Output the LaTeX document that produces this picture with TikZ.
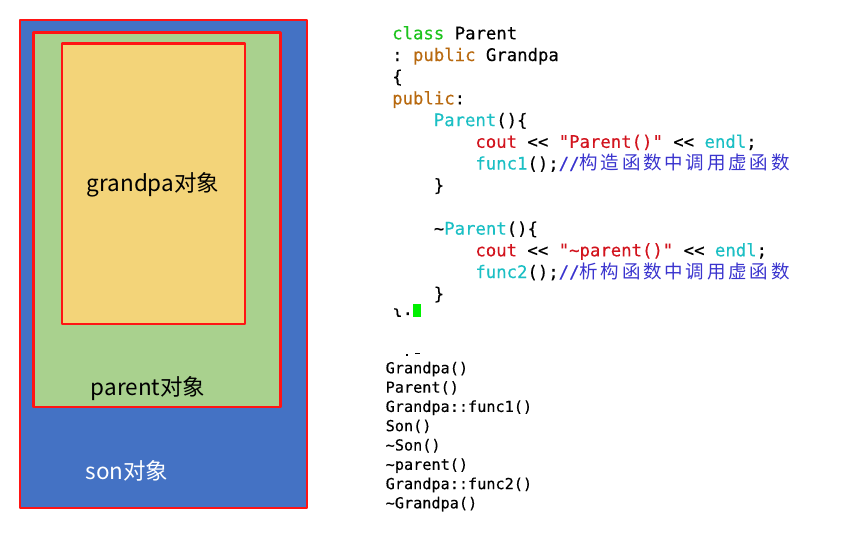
\documentclass[tikz,border=0pt]{standalone}
\usepackage{fontspec}
\setmainfont{DejaVu Sans}
\setmonofont[FakeBold=0.3]{DejaVu Sans Mono}
\newfontfamily\cjk[LetterSpace=15]{Noto Sans CJK SC}
\newfontfamily\labelfont{Noto Sans CJK SC}
\usepackage{xcolor}
\usetikzlibrary{positioning}

\definecolor{sonblue}{HTML}{4472C4}
\definecolor{parentgreen}{HTML}{A9D18E}
\definecolor{grandpayellow}{HTML}{F3D479}
\definecolor{edgered}{HTML}{FF1414}
\definecolor{kwgreen}{HTML}{1DC31D}
\definecolor{kwbrown}{HTML}{B8690F}
\definecolor{fncyan}{HTML}{1BBFC4}
\definecolor{strred}{HTML}{D2141E}
\definecolor{cmtblue}{HTML}{3A34CE}
\definecolor{cursorgreen}{HTML}{00F000}

\tikzset{
  objbox/.style={draw=edgered, line width=2.2pt},
  objlabel/.style={font=\labelfont\fontsize{22.5}{26}\selectfont, inner sep=0pt},
  codeline/.style={font=\ttfamily\fontsize{17.3}{20}\selectfont, anchor=base west, inner sep=0pt},
  outline/.style={font=\ttfamily\fontsize{15.2}{18}\selectfont, anchor=base west, inner sep=0pt}
}

\begin{document}
\begin{tikzpicture}[x=1pt, y=-1pt, line cap=round, line join=round]
  \useasboundingbox (0,0) rectangle (867,547);

  % nested objects: son contains parent contains grandpa
  \draw[objbox, fill=sonblue] (20,20) rectangle (307,508);
  \draw[objbox, fill=parentgreen] (33.5,32.5) rectangle (280.5,407);
  \draw[objbox, fill=grandpayellow] (62,43.5) rectangle (245,324);

  \node[objlabel] (grandpa) at (153,185) {grandpa对象};
  \node[objlabel] (parent) at (148,389) {parent对象};
  \node[objlabel, text=white] (son) at (127,471) {son对象};

  % source of class Parent
  \node[codeline] (c1) at (392,39.3) {\textcolor{kwgreen}{class} Parent};
  \node[codeline] (c2) at (392,61.0) {: \textcolor{kwbrown}{public} Grandpa};
  \node[codeline] (c3) at (392,82.7) {\{};
  \node[codeline] (c4) at (392,104.4) {\textcolor{kwbrown}{public}:};
  \node[codeline] (c5) at (433.6,126.1) {\textcolor{fncyan}{Parent}()\{};
  \node[codeline] (c6) at (475.2,147.8) {\textcolor{strred}{cout} << \textcolor{strred}{"Parent()"} << \textcolor{fncyan}{endl};};
  \node[codeline] (c7) at (475.2,169.5) {\textcolor{fncyan}{func1}();\textcolor{cmtblue}{//{\cjk\fontsize{18.5}{20}\selectfont 构造函数中调用虚函数}}};
  \node[codeline] (c8) at (433.6,191.2) {\}};
  \node[codeline] (c10) at (433.6,234.6) {\textasciitilde\textcolor{fncyan}{Parent}()\{};
  \node[codeline] (c11) at (475.2,256.3) {\textcolor{strred}{cout} << \textcolor{strred}{"\textasciitilde parent()"} << \textcolor{fncyan}{endl};};
  \node[codeline] (c12) at (475.2,278.0) {\textcolor{fncyan}{func2}();\textcolor{cmtblue}{//{\cjk\fontsize{18.5}{20}\selectfont 析构函数中调用虚函数}}};
  \node[codeline] (c13) at (433.6,299.7) {\}};
  % last line is cut off by the screenshot
  \begin{scope}
    \clip (385,295) rectangle (440,316);
    \node[codeline] (c14) at (392,321.4) {\};};
  \end{scope}
  \fill[cursorgreen] (412.5,304) rectangle (421,317);

  % program output
  \fill (405.5,353.5) rectangle (407.5,355.5);
  \fill (415,352.5) rectangle (419.5,353.8);
  \node[outline] (o1) at (385.5,373.3) {Grandpa()};
  \node[outline] (o2) at (385.5,392.6) {Parent()};
  \node[outline] (o3) at (385.5,411.9) {Grandpa::func1()};
  \node[outline] (o4) at (385.5,431.2) {Son()};
  \node[outline] (o5) at (385.5,450.5) {\textasciitilde Son()};
  \node[outline] (o6) at (385.5,469.8) {\textasciitilde parent()};
  \node[outline] (o7) at (385.5,489.1) {Grandpa::func2()};
  \node[outline] (o8) at (385.5,508.3) {\textasciitilde Grandpa()};

\end{tikzpicture}
\end{document}
